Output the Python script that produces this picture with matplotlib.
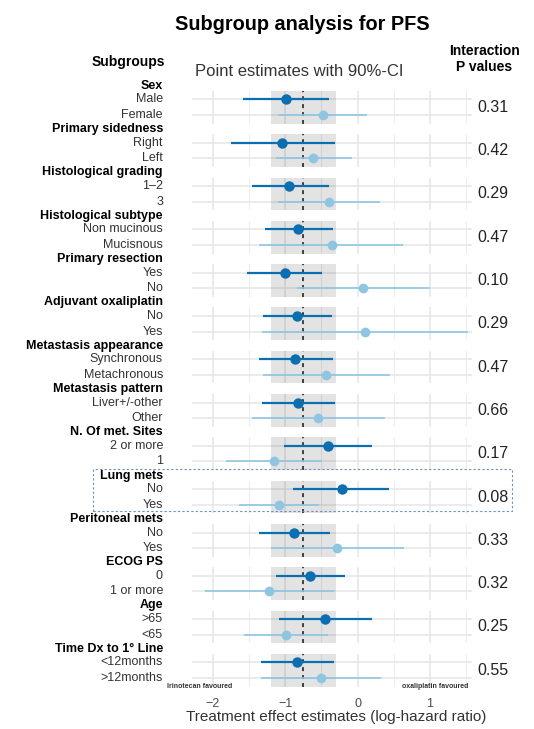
import numpy as np
import matplotlib.pyplot as plt
from matplotlib.transforms import blended_transform_factory
from matplotlib.patches import Rectangle

plt.rcParams['font.family'] = ['Liberation Sans', 'DejaVu Sans']

# --- data ---
groups = ['Sex', 'Primary sidedness', 'Histological grading', 'Histological subtype',
          'Primary resection', 'Adjuvant oxaliplatin', 'Metastasis appearance',
          'Metastasis pattern', 'N. Of met. Sites', 'Lung mets', 'Peritoneal mets',
          'ECOG PS', 'Age', 'Time Dx to 1° Line']
levels = ['Male', 'Female', 'Right', 'Left', '1–2', '3', 'Non mucinous', 'Mucisnous',
          'Yes', 'No', 'No', 'Yes', 'Synchronous', 'Metachronous', 'Liver+/-other', 'Other',
          '2 or more', '1', 'No', 'Yes', 'No', 'Yes', '0', '1 or more', '>65', '<65',
          '<12months', '>12months']
estimate = [-0.99, -0.48, -1.04, -0.62, -0.94, -0.40, -0.82, -0.35, -1.00, 0.07,
            -0.84, 0.11, -0.86, -0.43, -0.82, -0.55, -0.41, -1.15, -0.22, -1.08,
            -0.87, -0.28, -0.66, -1.22, -0.45, -0.99, -0.84, -0.50]
lower = [-1.58, -1.10, -1.74, -1.13, -1.45, -1.10, -1.28, -1.36, -1.52, -0.83,
         -1.31, -1.32, -1.36, -1.31, -1.32, -1.45, -1.02, -1.81, -0.89, -1.63,
         -1.36, -1.19, -1.13, -2.10, -1.08, -1.57, -1.33, -1.33]
upper = [-0.40, 0.13, -0.31, -0.08, -0.40, 0.31, -0.34, 0.63, -0.49, 1.00,
         -0.35, 1.52, -0.34, 0.45, -0.31, 0.38, 0.20, -0.49, 0.44, -0.53,
         -0.38, 0.64, -0.17, -0.33, 0.20, -0.41, -0.33, 0.32]
p_values = ['0.31', '0.42', '0.29', '0.47', '0.10', '0.29', '0.47', '0.66',
            '0.17', '0.08', '0.33', '0.32', '0.25', '0.55']
overall_est = -0.75
overall_lo, overall_hi = -1.20, -0.29

DARK = '#0A6FB0'
LIGHT = '#8EC6E2'
W, H = 534, 729

fig = plt.figure(figsize=(W / 100, H / 100), dpi=100)
gs = fig.add_gridspec(len(groups), 1, left=0.360, right=0.884,
                      top=1 - 90.9 / H, bottom=1 - 686.6 / H, hspace=0.324)

label_x = 163 / W
for i, grp in enumerate(groups):
    ax = fig.add_subplot(gs[i])
    ax.set_xlim(-2.28, 1.58)
    ax.set_ylim(-0.55, 1.55)
    ax.set_axisbelow(True)
    ax.set_xticks([-2, -1, 0, 1])
    ax.set_xticks([-1.5, -0.5, 0.5, 1.5], minor=True)
    ax.set_yticks([0, 1])
    ax.grid(which='major', color='#E6E6E6', lw=1.1)
    ax.grid(which='minor', axis='x', color='#EDEDED', lw=0.8)
    for s in ax.spines.values():
        s.set_visible(False)
    ax.tick_params(which='both', length=0, labelleft=False)
    ax.axvspan(overall_lo, overall_hi, color='black', alpha=0.11, lw=0, zorder=1)
    ax.axvline(overall_est, color='#333333', ls=(0, (2.2, 2.2)), lw=1.3, zorder=2)

    # two subgroup rows: first at y=1 (dark), second at y=0 (light)
    for k, (yy, col, lw, ms) in enumerate([(1, DARK, 1.6, 7.5), (0, LIGHT, 1.2, 7)]):
        j = 2 * i + k
        ax.hlines(yy, lower[j], upper[j], color=col, lw=lw, zorder=3)
        ax.plot(estimate[j], yy, 'o', color=col, ms=ms, mec='none', zorder=4)

    tr = blended_transform_factory(fig.transFigure, ax.transData)
    ax.text(label_x, 1.88, grp, transform=tr, ha='right', va='center',
            fontsize=9, fontweight='bold', color='black', clip_on=False)
    ax.text(label_x, 1, levels[2 * i], transform=tr, ha='right', va='center',
            fontsize=9, color='#333333', clip_on=False)
    ax.text(label_x, 0, levels[2 * i + 1], transform=tr, ha='right', va='center',
            fontsize=9, color='#333333', clip_on=False)
    ax.text(477 / W, 0.5, p_values[i], transform=tr, ha='left', va='center',
            fontsize=11.5, color='#222222', clip_on=False)

    if i < len(groups) - 1:
        ax.tick_params(labelbottom=False)
    else:
        ax.tick_params(axis='x', labelsize=9, labelcolor='#4D4D4D', pad=8)

# dashed box around the lung mets block
fig.patches.append(Rectangle((93 / W, 1 - 511 / H), (512 - 93) / W, 42 / H,
                             transform=fig.transFigure, fill=False,
                             ec='#6A8CBF', lw=0.8, ls=(0, (2, 2))))

fig.text(302 / W, 1 - 25 / H, 'Subgroup analysis for PFS', ha='center', va='center',
         fontsize=14.3, fontweight='bold')
fig.text(165 / W, 1 - 62 / H, 'Subgroups', ha='right', va='center',
         fontsize=10, fontweight='bold')
fig.text(484 / W, 1 - 59 / H, 'Interaction\nP values', ha='center', va='center',
         multialignment='center', fontsize=10, fontweight='bold', linespacing=1.1)
fig.text(195 / W, 1 - 72 / H, 'Point estimates with 90%-CI', ha='left', va='center',
         fontsize=12, color='#333333')
fig.text(167 / W, 1 - 687 / H, 'Irinotecan favoured', ha='left', va='center',
         fontsize=5, fontweight='bold', color='#333333')
fig.text(468 / W, 1 - 687 / H, 'oxaliplatin favoured', ha='right', va='center',
         fontsize=5, fontweight='bold', color='#333333')
fig.text(336 / W, 1 - 717 / H, 'Treatment effect estimates (log-hazard ratio)',
         ha='center', va='center', fontsize=11, color='#333333')

fig.savefig('out.png', dpi=100)
